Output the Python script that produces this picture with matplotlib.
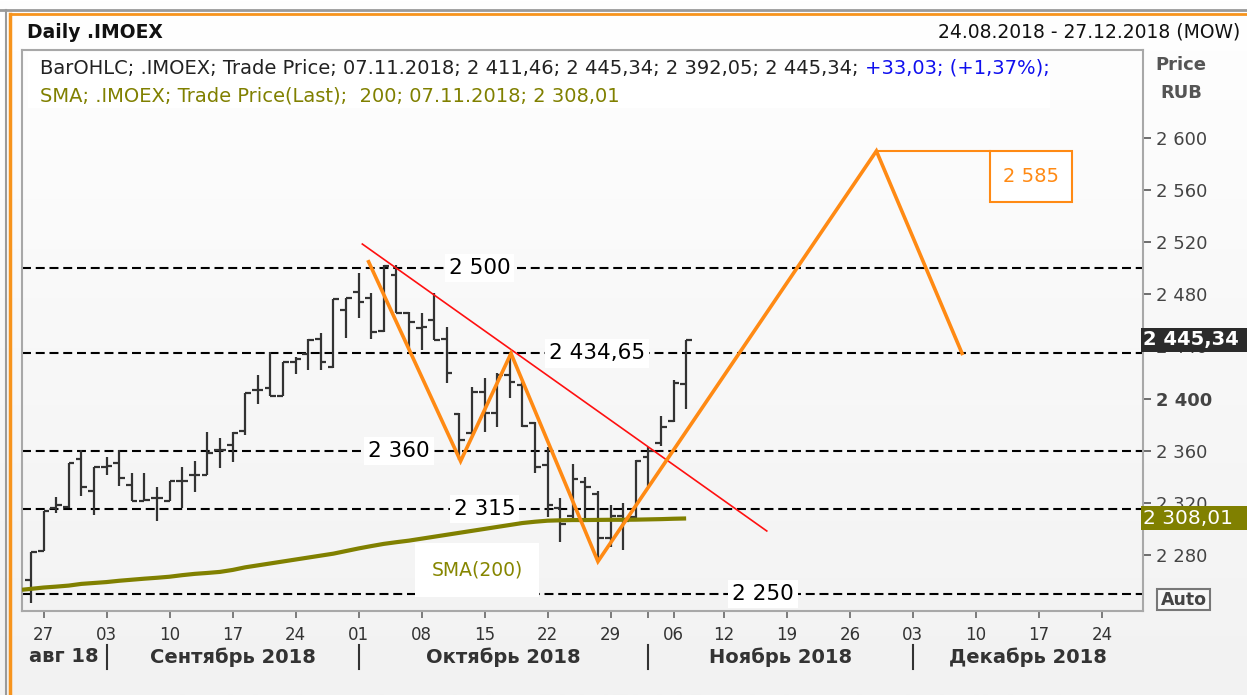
import numpy as np
import pandas as pd
import matplotlib
matplotlib.use("Agg")
import matplotlib.pyplot as plt
from matplotlib.patches import Rectangle
from matplotlib.lines import Line2D
from matplotlib.colors import LinearSegmentedColormap
import matplotlib.transforms as mtrans

plt.rcParams['font.family'] = ['DejaVu Sans']

# ---------------- data ----------------
start_date = '2018-08-24'
end_date = '2018-12-27'
holidays = ['2018-11-05']

opens = [2261, 2283, 2316, 2317, 2353.4, 2329, 2347.5, 2350.8, 2333.7, 2321.5,
         2323.5, 2321.4, 2337, 2341.4, 2341.4, 2360.6, 2364.4, 2375.4, 2406.6, 2408,
         2402, 2427.9, 2434, 2445.7, 2424.5, 2468, 2482, 2477, 2452, 2494.9,
         2466, 2454, 2460.3, 2445.6, 2388, 2373.4, 2405, 2388.7, 2418, 2410.4,
         2381.6, 2349, 2316, 2310, 2336, 2327, 2293, 2310, 2309, 2355,
         2366, 2383, 2411.46]
highs = [2282.5, 2314, 2324.7, 2350.5, 2360.6, 2347.7, 2355.4, 2360.6, 2343.1, 2343.1,
         2332.4, 2337, 2347.7, 2352.1, 2374.6, 2370, 2374.6, 2404.5, 2418.1, 2436,
         2428.3, 2432.2, 2445.7, 2450.6, 2476.2, 2477.4, 2496.2, 2480.8, 2502.5, 2502.5,
         2466.7, 2466, 2480.8, 2454.7, 2388.7, 2409.1, 2415.6, 2419.4, 2434.65, 2413,
         2382.3, 2363, 2324, 2350, 2340, 2329, 2318, 2320, 2353, 2363,
         2387, 2414, 2445.34]
lows = [2243, 2283, 2312.4, 2316, 2325.3, 2310.7, 2341.4, 2333, 2321.4, 2321.4,
        2306.3, 2321.4, 2315.8, 2328.6, 2341.4, 2347, 2351.6, 2372, 2395.6, 2402,
        2402, 2418.6, 2422, 2422, 2423.3, 2446.3, 2461.6, 2445.6, 2451.3, 2465.7,
        2437.3, 2437.3, 2445, 2411.8, 2352.9, 2372, 2374.6, 2378.5, 2400.2, 2378.5,
        2342.7, 2309.4, 2290, 2306, 2307, 2276, 2286, 2284, 2307, 2333,
        2364, 2382, 2392.05]
closes = [2282.5, 2314, 2318, 2350.3, 2332.4, 2347.3, 2348.5, 2338.8, 2321.4, 2321.8,
          2323.5, 2337, 2337, 2341.4, 2358, 2360.6, 2373.8, 2404.5, 2406.6, 2402,
          2428.3, 2430.4, 2445, 2428.3, 2476.2, 2477, 2474.4, 2451.3, 2502, 2465.7,
          2459, 2455, 2445, 2419.4, 2368.2, 2405.3, 2388.7, 2418, 2413, 2379,
          2347.7, 2318, 2304, 2338, 2332, 2293, 2310, 2306, 2352, 2360,
          2378, 2412.31, 2445.34]
sma200 = [2254, 2255, 2255.7, 2256.5, 2257.8, 2258.5, 2259.2, 2260.2, 2261, 2261.8,
          2262.5, 2263.3, 2264.5, 2265.5, 2266.2, 2267, 2268.5, 2270.5, 2272, 2273.5,
          2275, 2276.5, 2278, 2279.5, 2281, 2283, 2285, 2286.8, 2288.5, 2289.8,
          2291, 2292.5, 2294, 2295.5, 2297, 2298.5, 2300, 2301.5, 2303, 2304.5,
          2305.5, 2306.3, 2306.6, 2306.8, 2306.8, 2306.9, 2307, 2307, 2307.1, 2307.3,
          2307.5, 2307.8, 2308.01]

levels = [2500, 2434.65, 2360, 2315, 2250]
level_labels = ['2 500', '2 434,65', '2 360', '2 315', '2 250']
level_label_x = [35.6, 44.9, 29.2, 36.0, 58.1]

trend_x = [26.3, 58.4]
trend_y = [2518.6, 2298.4]

zigzag_x = [26.8, 34.1, 38.1, 45.0, 67.1, 73.9]
zigzag_y = [2505, 2352, 2434.65, 2275, 2590, 2434.65]
target_label = '2 585'

yticks = [2280, 2320, 2360, 2400, 2440, 2480, 2520, 2560, 2600]
month_names = {8: 'авг 18', 9: 'Сентябрь 2018', 10: 'Октябрь 2018',
               11: 'Ноябрь 2018', 12: 'Декабрь 2018'}

# ---------------- helpers ----------------
W, H = 1247, 695
def fx(px):
    return px / W
def fy(py):
    return 1 - py / H
def rub(v):
    return f"{v:,.2f}".replace(',', ' ').replace('.', ',')

days = pd.bdate_range(start_date, end_date)
days = days[~days.isin(pd.to_datetime(holidays))]
n_days = len(days)
idx_all = np.arange(n_days)
wk = days.isocalendar().week.values
week_starts = [i for i in range(1, n_days) if wk[i] != wk[i - 1]]
month_starts = [i for i in range(1, n_days) if days[i].month != days[i - 1].month]

fig = plt.figure(figsize=(W / 100, H / 100), dpi=100)

# background gradient
bg = fig.add_axes([0, 0, 1, 1], zorder=-10)
grad = np.linspace(0, 1, 256)[:, None]
cm = LinearSegmentedColormap.from_list('g', ['#ffffff', '#f8f8f8', '#f2f2f2'])
bg.imshow(grad, aspect='auto', cmap=cm, extent=[0, 1, 0, 1])
bg.set_axis_off()

# frame lines
fig.add_artist(Line2D([0, 1], [fy(10), fy(10)], color='#9a9a9a', lw=2))
fig.add_artist(Line2D([fx(6), fx(6)], [fy(10), 0], color='#9a9a9a', lw=1.5))
fig.add_artist(Line2D([fx(10), 1], [fy(13.5), fy(13.5)], color='#f7941d', lw=2))
fig.add_artist(Line2D([fx(10), fx(10)], [fy(13.5), 0], color='#f7941d', lw=2.5))

# header
fig.text(fx(27), fy(32), 'Daily .IMOEX', fontsize=13.5, fontweight='bold',
         color='#111111', va='center', ha='left')
fig.text(fx(1240), fy(32), '24.08.2018 - 27.12.2018 (MOW)', fontsize=13.5,
         color='#111111', va='center', ha='right')

# main axes
ax = fig.add_axes([fx(22), fy(611), fx(1143) - fx(22), fy(50) - fy(611)])
ax.set_facecolor('none')
ax.set_xlim(-0.71, 88.26)
ax.set_ylim(2237, 2667.5)
for s in ax.spines.values():
    s.set_color('#a8a8a8')
    s.set_linewidth(1.5)

# horizontal levels
for lv, lab, lx in zip(levels, level_labels, level_label_x):
    ax.axhline(lv, color='black', lw=1.5, linestyle=(0, (4.3, 2.3)), zorder=2)
    ax.text(lx, lv, lab, ha='center', va='center', fontsize=15.5, color='black',
            zorder=3, bbox=dict(facecolor='white', edgecolor='none', pad=3))

# OHLC bars
bc = '#333333'
xb = idx_all[:len(opens)]
ax.vlines(xb, lows, highs, color=bc, lw=1.6, zorder=4)
ax.hlines(opens, xb - 0.45, xb, color=bc, lw=1.6, zorder=4)
ax.hlines(closes, xb, xb + 0.45, color=bc, lw=1.6, zorder=4)

# SMA
ax.plot(np.r_[-0.71, xb], np.r_[sma200[0] - 0.7, sma200], color='#808000', lw=3,
        zorder=5, solid_capstyle='butt')

# trend line and zigzag
ax.plot(trend_x, trend_y, color='#ff1010', lw=1.2, zorder=6)
ax.plot(zigzag_x, zigzag_y, color='#ff8a14', lw=2.6, zorder=7,
        solid_joinstyle='miter')
ax.plot([zigzag_x[4], 76.1], [zigzag_y[4], zigzag_y[4]], color='#ff8a14', lw=1.5, zorder=7)
ax.add_patch(Rectangle((76.1, 2550.5), 6.5, zigzag_y[4] - 2550.5, facecolor='white',
                       edgecolor='#ff8a14', lw=1.5, zorder=7))
ax.text(79.35, (2550.5 + zigzag_y[4]) / 2, target_label, color='#ff8a14', fontsize=14,
        ha='center', va='center', zorder=8)

# SMA label box
ax.add_patch(Rectangle((30.5, 2247.8), 9.8, 41.4, facecolor='white', edgecolor='none', zorder=6))
ax.text(35.4, 2268.5, 'SMA(200)', color='#868600', fontsize=13.5, ha='center', va='center', zorder=7)

# y axis right
ax.yaxis.tick_right()
ax.set_yticks(yticks)
ax.set_yticklabels([f"{v:,}".replace(',', ' ') for v in yticks])
ax.tick_params(axis='y', direction='out', length=6, width=1.2, color='#555555', pad=3,
               labelsize=13, labelcolor='#444444')
for t in ax.get_yticklabels():
    if t.get_text() == '2 400':
        t.set_fontweight('bold')

# x axis
ax.set_xticks(week_starts)
ax.set_xticklabels([days[i].strftime('%d') for i in week_starts])
ax.set_xticks(month_starts, minor=True)
ax.tick_params(axis='x', which='both', direction='out', length=5, width=1.2,
               color='#666666', pad=6, labelsize=12, labelcolor='#333333')

# month separators and labels
trans = mtrans.blended_transform_factory(ax.transData, fig.transFigure)
for i in month_starts:
    ax.add_artist(Line2D([i, i], [fy(645), fy(669)], transform=trans, color='#333333',
                         lw=1.5, clip_on=False))
bounds = [ax.get_xlim()[0]] + month_starts + [ax.get_xlim()[1]]
months = [days[0].month] + [days[i].month for i in month_starts]
for a, b, m in zip(bounds[:-1], bounds[1:], months):
    ax.text((a + b) / 2, fy(657), month_names[m], transform=trans, ha='center', va='center',
            fontsize=14, fontweight='bold', color='#333333', clip_on=False)

# legend block
fig.add_artist(Rectangle((fx(28), fy(108)), fx(1050) - fx(28), fy(52) - fy(108),
                         transform=fig.transFigure, facecolor='white', edgecolor='none', zorder=9))
last_day = days[len(opens) - 1].strftime('%d.%m.%Y')
l1 = (f"BarOHLC; .IMOEX; Trade Price; {last_day}; "
      f"{rub(opens[-1])}; {rub(highs[-1])}; {rub(lows[-1])}; {rub(closes[-1])}; ")
chg = closes[-1] - closes[-2]
pct = chg / closes[-2] * 100
l1b = f"+{rub(chg)}; (+{rub(pct)}%);"
t1 = fig.text(fx(40), fy(74), l1, fontsize=14, color='#222222', va='baseline', ha='left', zorder=10)
fig.canvas.draw()
bb = t1.get_window_extent()
fig.text(bb.x1 / W, fy(74), l1b, fontsize=14, color='#1010ee', va='baseline', ha='left', zorder=10)
l2 = f"SMA; .IMOEX; Trade Price(Last);  200; {last_day}; {rub(sma200[-1])}"
fig.text(fx(40), fy(101), l2, fontsize=14, color='#808000', va='baseline', ha='left', zorder=10)

# Price / RUB
fig.text(fx(1181), fy(65), 'Price', fontsize=13, fontweight='bold', color='#555555',
         ha='center', va='center')
fig.text(fx(1181), fy(93), 'RUB', fontsize=13, fontweight='bold', color='#555555',
         ha='center', va='center')

# value boxes on right axis
def val_box(value, face, weight, size):
    ydisp = ax.transData.transform((0, value))[1]
    yf = fig.transFigure.inverted().transform((0, ydisp))[1]
    hh = 24 / H
    fig.add_artist(Rectangle((fx(1141), yf - hh / 2), 1 - fx(1141), hh, transform=fig.transFigure,
                             facecolor=face, edgecolor='none', zorder=11))
    fig.text(fx(1143), yf, rub(value), fontsize=size, fontweight=weight, color='white',
             ha='left', va='center', zorder=12)

val_box(closes[-1], '#2b2b2b', 'bold', 14)
val_box(sma200[-1], '#808000', 'normal', 14.5)

# Auto box
fig.add_artist(Rectangle((fx(1157), fy(610)), fx(1210) - fx(1157), fy(589) - fy(610),
                         transform=fig.transFigure, facecolor='#f8f8f8', edgecolor='#777777',
                         lw=1.5, zorder=11))
fig.text(fx(1183.5), fy(600), 'Auto', fontsize=12.5, fontweight='bold', color='#444444',
         ha='center', va='center', zorder=12)

fig.savefig('out.png', dpi=100)
